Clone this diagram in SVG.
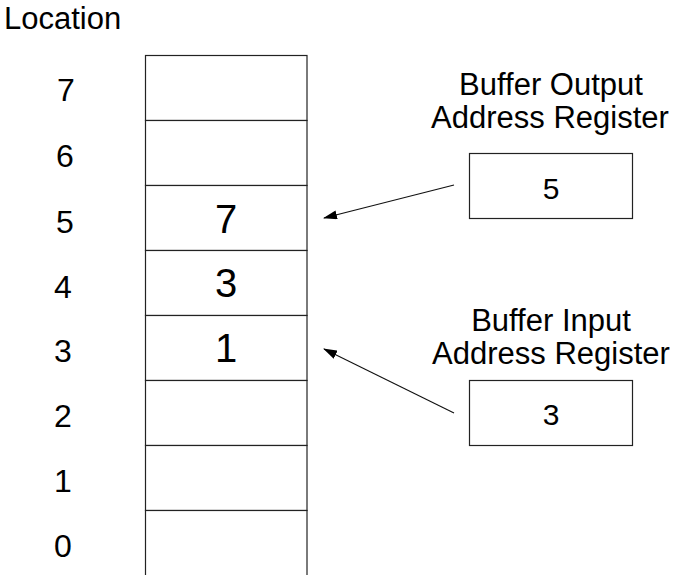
<svg xmlns="http://www.w3.org/2000/svg" width="673" height="575" viewBox="0 0 673 575">
<style>
.cell{fill:#fff;stroke:#222;stroke-width:1.2}
.t{font-family:"Liberation Sans",Arial,sans-serif;fill:#000}
.lbl{font-size:32px;text-anchor:middle}
.big{font-size:40px;text-anchor:middle}
.reg{font-size:31px;text-anchor:middle}
.num{font-size:30px;text-anchor:middle}
.conn{stroke:#111;stroke-width:1.2;fill:none}
</style>
<defs>
<marker id="ah" viewBox="0 0 14 9" refX="13" refY="4.5" markerWidth="14" markerHeight="9" markerUnits="userSpaceOnUse" orient="auto">
<path d="M0,0 L14,4.5 L0,9 Z" fill="#000"/>
</marker>
</defs>
<rect width="673" height="575" fill="#fff"/>
<text id="title" class="t" x="4" y="29" font-size="31">Location</text>
<g id="labels" class="t lbl">
<text x="66" y="101">7</text>
<text x="65" y="167">6</text>
<text x="65" y="233">5</text>
<text x="63" y="298">4</text>
<text x="63" y="362">3</text>
<text x="63" y="427">2</text>
<text x="63" y="492">1</text>
<text x="63" y="557">0</text>
</g>
<g id="loc7"><rect class="cell" x="145.5" y="55.5" width="161.5" height="65"/></g>
<g id="loc6"><rect class="cell" x="145.5" y="120.5" width="161.5" height="65"/></g>
<g id="loc5"><rect class="cell" x="145.5" y="185.5" width="161.5" height="65"/><text class="t big" x="226" y="233">7</text></g>
<g id="loc4"><rect class="cell" x="145.5" y="250.5" width="161.5" height="65"/><text class="t big" x="226" y="297">3</text></g>
<g id="loc3"><rect class="cell" x="145.5" y="315.5" width="161.5" height="65"/><text class="t big" x="226" y="362">1</text></g>
<g id="loc2"><rect class="cell" x="145.5" y="380.5" width="161.5" height="65"/></g>
<g id="loc1"><rect class="cell" x="145.5" y="445.5" width="161.5" height="65"/></g>
<g id="loc0"><rect class="cell" x="145.5" y="510.5" width="161.5" height="80"/></g>
<g id="outreg">
<text class="t reg" x="551" y="95">Buffer Output</text>
<text class="t reg" x="550" y="128">Address Register</text>
<rect class="cell" x="469.5" y="153.5" width="163" height="65"/>
<text class="t num" x="551" y="199">5</text>
</g>
<g id="inreg">
<text class="t reg" x="551" y="331">Buffer Input</text>
<text class="t reg" x="551" y="364">Address Register</text>
<rect class="cell" x="469.5" y="380.5" width="163" height="65"/>
<text class="t num" x="551" y="425">3</text>
</g>
<g id="connectors">
<line class="conn" x1="454" y1="185" x2="324" y2="218" marker-end="url(#ah)"/>
<line class="conn" x1="454" y1="413" x2="324" y2="349" marker-end="url(#ah)"/>
</g>
</svg>
